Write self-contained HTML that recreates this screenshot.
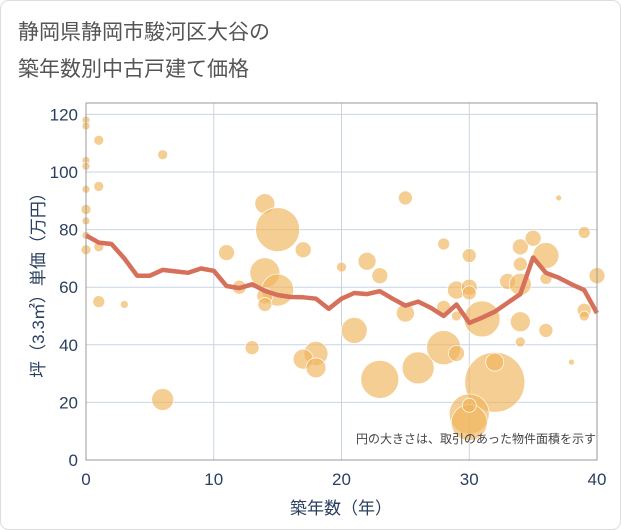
<!DOCTYPE html>
<html><head><meta charset="utf-8"><style>
html,body{margin:0;padding:0;background:#fff;}
svg{display:block;font-family:"Liberation Sans","Noto Sans CJK JP",sans-serif;}
</style></head><body>
<svg id="chart" width="621" height="530" xmlns="http://www.w3.org/2000/svg">
<rect x="0.5" y="0.5" width="620" height="529" rx="8" fill="#fff" stroke="#ddd"/>
<text x="18" y="39" font-size="21" fill="#555">静岡県静岡市駿河区大谷の</text>
<text x="18" y="76" font-size="21" fill="#555">築年数別中古戸建て価格</text>
<g id="grid"></g>
<g id="bubbles"></g>
<g id="trend"></g>
<g id="axes"></g>
<text x="596" y="443" font-size="12" fill="#444" text-anchor="end">円の大きさは、取引のあった物件面積を示す</text>
<text x="341" y="514" font-size="17" fill="#2a3f5f" text-anchor="middle">築年数（年）</text>
<text transform="translate(44,281) rotate(-90)" font-size="17" fill="#2a3f5f" text-anchor="middle">坪（3.3㎡）単価（万円）</text>
</svg>
<script>
const xTicks=[0,10,20,30,40];
const yTicks=[0,20,40,60,80,100,120];
const trendAges=[0,1,2,3,4,5,6,7,8,9,10,11,12,13,14,15,16,17,18,19,20,21,22,23,24,25,26,27,28,29,30,31,32,33,34,35,36,37,38,39,40];
const trendPrices=[78,75.5,75,70,64,64,66,65.5,65,66.5,65.7,60.4,59.7,61,58.7,57.3,56.6,56.5,56,52.5,56,58,57.6,58.6,56,53.6,55,52.8,50,54,47.6,49.4,51.5,54.6,57.6,70.3,65,63.3,61,59,51];
const bubbleAges=[0,0,1,6,0,0,1,0,0,0,0,0,1,1,3,6,14,15,17,11,14,15,12,14,14,20,13,18,17,18,25,22,23,21,23,25,26,28,28,29,29,30,30,30,28,29,31,32,32,30,30,30,33,34,34,34,35,36,36,34,34,36,37,38,39,39,39,40];
const bubblePrices=[118,116,111,106,104,102,95,94,87,83,78,73,74,55,54,21,89,80,73,72,65,59,60,57,54,67,39,37,35,32,91,69,64,45,28,51,32,75,39,37,59,71,60,58,53,50,49,27,34,16,13,19,62,74,68,61,77,71,63,48,41,45,91,34,79,52,50,64];
const bubbleSizes=[4,4,5,5,4,4,5,4,5,4,4,5,5,6,4,11,10,22,8,8,15,16,7,8,7,5,7,12,10,10,7,9,8,13,19,9,16,6,17,8,9,7,8,7,7,5,18,30,9,20,18,7,8,8,7,11,8,13,6,10,5,7,3,3,6,7,5,8];
const X0=86,X1=597,Y0=460,Y1=103;
const xs=v=>X0+(v-0)/40*(X1-X0);
const ys=v=>Y0-v*2.88;
const NS="http://www.w3.org/2000/svg";
const mk=(t,a,p)=>{const e=document.createElementNS(NS,t);for(const k in a)e.setAttribute(k,a[k]);p.appendChild(e);return e;};
const grid=document.getElementById('grid'),axes=document.getElementById('axes');
xTicks.forEach(t=>{
 const l=mk('line',{x1:xs(t),x2:xs(t),y1:Y1,y2:Y0,stroke:'#c8d4e3','stroke-width':1},grid);
 
 
 const tx=mk('text',{x:xs(t),y:485,'font-size':17,fill:'#2a3f5f','text-anchor':'middle'},axes);
 tx.textContent=t;
 
 
});
yTicks.forEach(t=>{
 const l=mk('line',{x1:X0,x2:X1,y1:ys(t),y2:ys(t),stroke:'#c8d4e3','stroke-width':1},grid);
 
 
 const tx=mk('text',{x:78,y:ys(t)+6,'font-size':17,fill:'#2a3f5f','text-anchor':'end'},axes);
 tx.textContent=t;
 
 
});
const fr=mk('rect',{x:X0,y:Y1,width:X1-X0,height:Y0-Y1,fill:'none',stroke:'#999','stroke-width':1},axes);


const bg=document.getElementById('bubbles');
bubbleAges.forEach((a,i)=>{
 const c=mk('circle',{cx:xs(a),cy:ys(bubblePrices[i]),r:bubbleSizes[i],fill:'rgba(240,180,90,0.65)',stroke:'#fff','stroke-width':0.7},bg);
 
 
});
const pts=trendAges.map((a,i)=>xs(a).toFixed(1)+','+ys(trendPrices[i]).toFixed(1)).join(' ');
const pl=mk('polyline',{points:pts,fill:'none',stroke:'#d6705a','stroke-width':4.5,'stroke-linejoin':'round'},document.getElementById('trend'));


</script>
</body></html>
